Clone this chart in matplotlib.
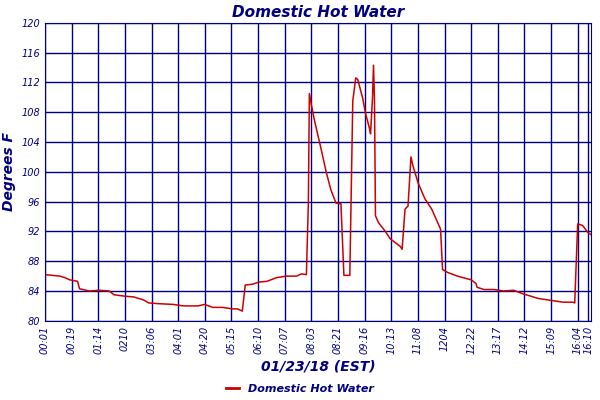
import matplotlib
matplotlib.use("Agg")
import matplotlib.pyplot as plt
import numpy as np

navy = "#000080"
tickLabels = ["00:01", "00:19", "01:14", "0210", "03:06", "04:01", "04:20", "05:15",
              "06:10", "07:07", "08:03", "08:21", "09:16", "10:13", "11:08", "1204",
              "12:22", "13:17", "14:12", "15:09", "16:04", "16:10"]
tickPos = list(range(21)) + [20.4]

# trace, x in tick slots
px = [45, 60, 65, 70, 78, 80, 90, 100, 110, 115, 126, 135, 145, 150, 160, 175, 185, 200,
      207, 215, 225, 235, 240, 245, 248, 255, 262, 270, 280, 290, 300, 305, 310, 312, 313,
      315, 318, 325, 330, 335, 340, 345, 348, 354, 357, 360, 362, 367, 370, 374, 375, 377,
      378, 379, 380, 383, 390, 395, 400, 405, 407, 410, 413, 416, 418, 423, 430, 437, 446,
      448, 453, 463, 477, 482, 483, 490, 500, 510, 520, 530, 545, 555, 570, 580, 582, 585,
      590, 595, 599]
temps = [86.2, 86.0, 85.8, 85.5, 85.3, 84.3, 84.0, 84.1, 84.0, 83.5, 83.3, 83.2, 82.8, 82.4,
         82.3, 82.2, 82.0, 82.0, 82.2, 81.8, 81.8, 81.6, 81.6, 81.3, 84.8, 84.9, 85.2, 85.3,
         85.8, 86.0, 86.0, 86.3, 86.2, 96.0, 110.5, 109.0, 107.0, 103.0, 100.0, 97.5, 95.8,
         95.7, 86.1, 86.1, 109.5, 112.6, 112.4, 109.9, 107.8, 105.8, 105.1, 109.9, 114.3,
         109.9, 94.1, 93.2, 92.0, 91.0, 90.5, 90.0, 89.6, 95.0, 95.4, 102.0, 100.8, 98.6,
         96.4, 95.0, 92.3, 86.9, 86.5, 86.0, 85.5, 85.0, 84.5, 84.2, 84.2, 84.0, 84.1, 83.6,
         83.0, 82.8, 82.5, 82.5, 82.4, 93.0, 92.8, 91.9, 91.5]
xs = (np.array(px) - 45) / 27.0

fig = plt.figure(figsize=(6, 4), dpi=100)
ax = fig.add_axes([0.075, 0.198, 0.91, 0.745])
ax.plot(xs, temps, color="#cc0000", lw=1.1, label="Domestic Hot Water")
ax.set_xlim(0, 20.5)
ax.set_ylim(80, 120)
ax.set_yticks(np.arange(80, 121, 4))
ax.set_xticks(tickPos)
ax.set_xticklabels(tickLabels, rotation=90, fontsize=7, style="italic", color=navy)
ax.tick_params(axis="y", labelsize=7, labelcolor=navy, length=0)
ax.tick_params(axis="x", length=0)
for t in ax.get_yticklabels():
    t.set_style("italic")
ax.grid(True, color=navy, lw=1)
for s in ax.spines.values():
    s.set_color(navy)
ax.set_title("Domestic Hot Water", fontsize=11, fontweight="bold", style="italic", color=navy, pad=4)
ax.set_ylabel("Degrees F", fontsize=10, fontweight="bold", style="italic", color=navy)
ax.set_xlabel("01/23/18 (EST)", fontsize=10, fontweight="bold", style="italic", color=navy, labelpad=4)
leg = fig.legend(loc="lower center", bbox_to_anchor=(0.5, -0.01), frameon=False, fontsize=8,
                 handlelength=1.2)
for line in leg.get_lines():
    line.set_linewidth(2)
for t in leg.get_texts():
    t.set_color(navy)
    t.set_style("italic")
    t.set_fontweight("bold")
fig.savefig("out.png")
